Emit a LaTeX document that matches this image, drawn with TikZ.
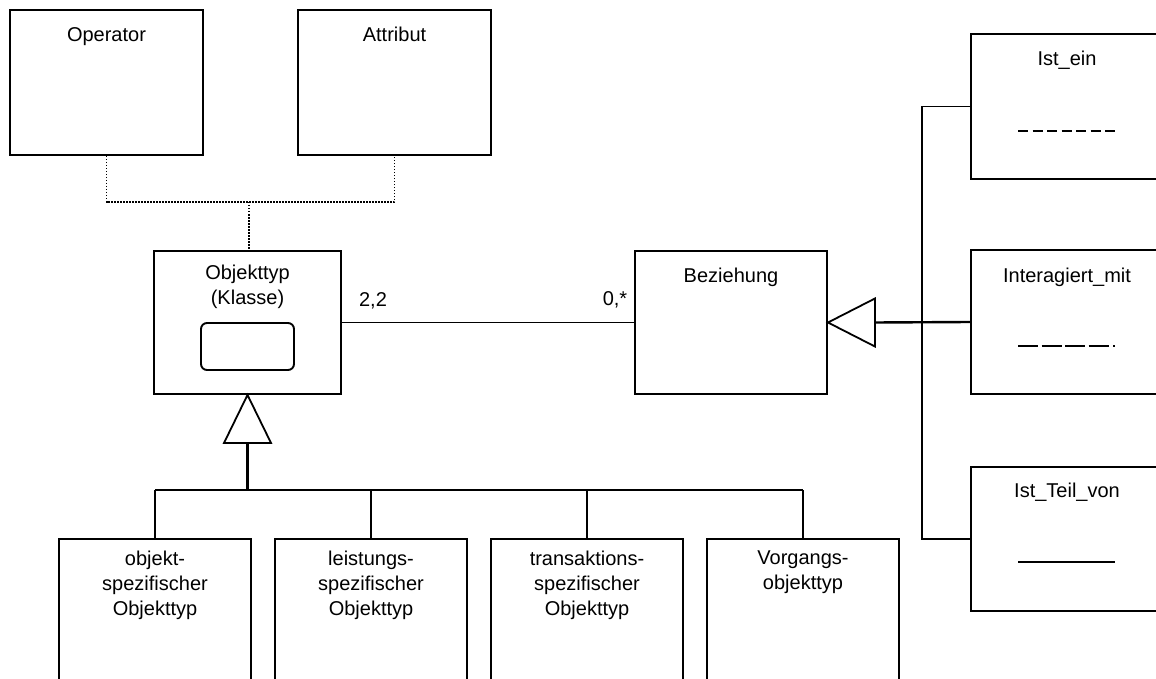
\documentclass[tikz,border=0pt]{standalone}
\usepackage{fontspec}
\setmainfont{Liberation Sans}
\begin{document}
\begin{tikzpicture}[x=1pt,y=-1pt,
  box/.style={draw, line width=1.9pt, inner sep=0pt, rectangle},
  txt/.style={anchor=north, inner sep=0pt, align=center,
    font=\fontsize{20}{25}\selectfont, execute at begin node=\strut},
  conn/.style={line width=1.6pt},
  thickconn/.style={line width=2.4pt},
  dotconn/.style={line width=1.7pt, dash pattern=on 1.5pt off 1.5pt},
  genarrow/.style={line width=1.8pt, line join=miter}]
\useasboundingbox (0,0) rectangle (1156,679);
\clip (0,0) rectangle (1156,679);
% boxes
\node[box, minimum width=193pt, minimum height=145pt] (op) at (106.5,82.5) {};
\node[box, minimum width=193pt, minimum height=145pt] (at) at (394.5,82.5) {};
\node[box, minimum width=187pt, minimum height=143pt] (obj) at (247.5,322.5) {};
\node[box, rounded corners=6pt, minimum width=93pt, minimum height=47pt] (inner) at (247.5,346.5) {};
\node[box, minimum width=192pt, minimum height=143pt] (bez) at (731,322.5) {};
\node[box, minimum width=192pt, minimum height=145pt] (ein) at (1067,106.5) {};
\node[box, minimum width=192pt, minimum height=144pt] (inter) at (1067,322) {};
\node[box, minimum width=192pt, minimum height=144pt] (teil) at (1067,539) {};
\node[box, minimum width=192pt, minimum height=181pt] (b1) at (155,629.5) {};
\node[box, minimum width=192pt, minimum height=181pt] (b2) at (371,629.5) {};
\node[box, minimum width=192pt, minimum height=181pt] (b3) at (587,629.5) {};
\node[box, minimum width=192pt, minimum height=181pt] (b4) at (803,629.5) {};
% texts
\node[txt] (top) at (op.north |- 0,23.5) {Operator};
\node[txt] (tat) at (at.north |- 0,23.5) {Attribut};
\node[txt] (tobj) at (obj.north |- 0,264.5) {Objekttyp\\(Klasse)};
\node[txt] (tbez) at (bez.north |- 0,264.5) {Beziehung};
\node[txt] (tein) at (ein.north |- 0,47.5) {Ist\_ein};
\node[txt] (tinter) at (inter.north |- 0,264.5) {Interagiert\_mit};
\node[txt] (tteil) at (teil.north |- 0,479.5) {Ist\_Teil\_von};
\node[txt] (tb1) at (b1.north |- 0,550.5) {objekt-\\spezifischer\\Objekttyp};
\node[txt] (tb2) at (b2.north |- 0,550.5) {leistungs-\\spezifischer\\Objekttyp};
\node[txt] (tb3) at (b3.north |- 0,550.5) {transaktions-\\spezifischer\\Objekttyp};
\node[txt] (tb4) at (b4.north |- 0,550.5) {Vorgangs-\\objekttyp};
\node[txt] (m1) at (373,288.5) {2,2};
\node[txt] (m2) at (615,287.5) {0,*};
% dotted connection
\coordinate (dj) at (249,202);
\draw[dotconn] (op.south) |- (dj) -| (at.south);
\draw[dotconn] (dj) -- (dj |- obj.north);
% association
\draw[conn] (obj.east) -- (bez.west);
% generalization Objekttyp
\draw[genarrow] (obj.south) -- ++(-23.5,48) -- ++(47,0) -- cycle;
\coordinate (tb) at (247.5,442);
\coordinate (hb) at (247.5,490);
\draw[thickconn] (tb) -- (hb);
\draw[thickconn] (b1.north |- hb) -- (b3.north |- hb);
\draw[conn] (b3.north |- hb) -- (b4.north |- hb);
\draw[conn] (b1.north |- hb) -- (b1.north);
\draw[conn] (b2.north |- hb) -- (b2.north);
\draw[conn] (b3.north |- hb) -- (b3.north);
\draw[conn] (b4.north |- hb) -- (b4.north);
% generalization Beziehung
\draw[genarrow] (bez.east) -- ++(47,-24) -- ++(0,48) -- cycle;
\coordinate (tr) at (874,322.5);
\draw[thickconn] (tr) -- (inter.west);
\coordinate (bus) at (922,0);
\draw[conn] (ein.west) -| (bus |- teil.west) -- (teil.west);
% line styles inside relation boxes
\draw[line width=1.9pt, dash pattern=on 10pt off 4.5pt] ([shift={(-49,24.5)}]ein.center) -- ++(97,0);
\draw[line width=1.9pt, dash pattern=on 20pt off 3.5pt on 20pt off 3.5pt on 20pt off 3.5pt on 20pt off 4.5pt on 2pt off 20pt] ([shift={(-49,24)}]inter.center) -- ++(97,0);
\draw[line width=1.6pt] ([shift={(-49,23)}]teil.center) -- ++(97,0);
\end{tikzpicture}
\end{document}
